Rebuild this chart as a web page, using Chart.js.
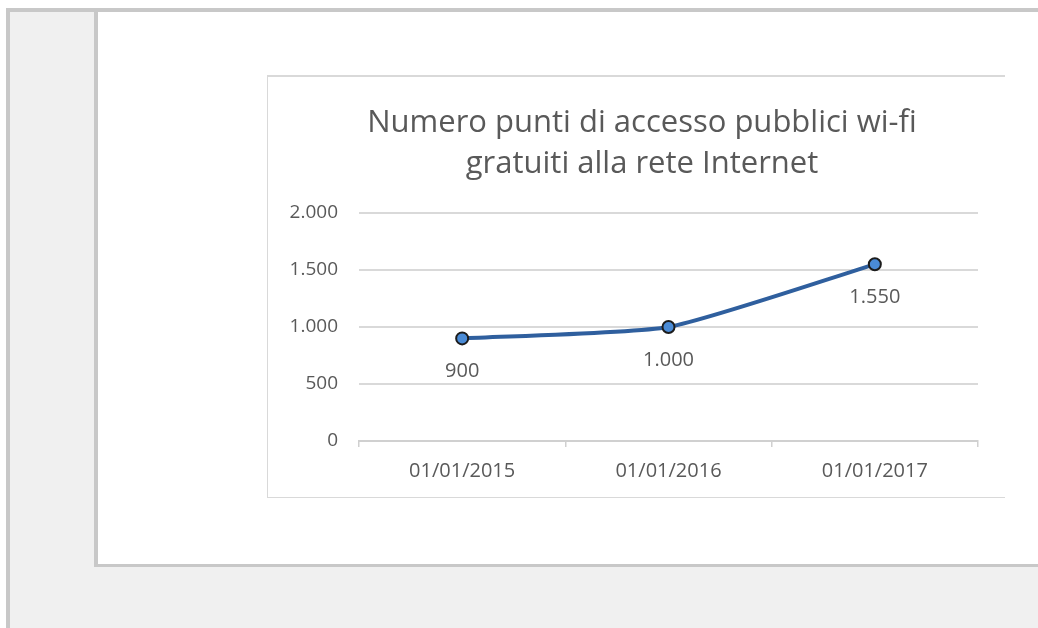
<!DOCTYPE html>
<html>
<head>
<meta charset="utf-8">
<script src="https://cdn.jsdelivr.net/npm/chart.js@4.4.0/dist/chart.umd.min.js"></script>
<style>
    html, body { margin: 0; padding: 0; background: #fff; width: 1038px; height: 628px; overflow: hidden; }
    #frame {
        position: absolute; left: 6px; top: 8px; width: 1032px; height: 620px;
        background: #f0f0f0; border-top: 4px solid #c8c8c8; border-left: 4px solid #c8c8c8;
    }
    #pannello {
        position: absolute; left: 94px; top: 12px; width: 944px; height: 552px;
        background: #fff; border-left: 4px solid #c8c8c8; border-bottom: 3px solid #c8c8c8;
    }
    #riquadro {
        position: absolute; left: 267px; top: 75px; width: 738px; height: 423px;
        background: #fff; border-top: 2px solid #d9d9d9; border-left: 1px solid #d9d9d9; border-bottom: 1px solid #d9d9d9;
        box-sizing: border-box;
    }
    #riquadro canvas { display: block; }
</style>
</head>
<body>
<div id="frame"></div>
<div id="pannello"></div>
<div id="riquadro"><canvas id="wifiChart" width="737" height="420"></canvas></div>
<script>
// Punti di accesso wi-fi gratuiti per anno
const date = ['01/01/2015', '01/01/2016', '01/01/2017'];
const puntiAccesso = [900, 1000, 1550];
const tickY = [0, 500, 1000, 1500, 2000];
const titolo = ['Numero punti di accesso pubblici wi-fi', 'gratuiti alla rete Internet'];

const grigioTesto = '#595959';

// Titolo su due righe, centrato un po' a sinistra del grafico
const titoloGrafico = {
    id: 'titoloGrafico',
    afterDraw(chart) {
        const ctx = chart.ctx;
        ctx.save();
        ctx.font = '31px "Open Sans"';
        ctx.fillStyle = grigioTesto;
        ctx.textAlign = 'center';
        ctx.textBaseline = 'middle';
        titolo.forEach(function(riga, i) {
            ctx.fillText(riga, 374, 46 + i * 41);
        });
        ctx.restore();
    }
};

// Etichette con il valore sotto ogni punto
const etichetteValori = {
    id: 'etichetteValori',
    afterDatasetsDraw(chart) {
        const ctx = chart.ctx;
        const meta = chart.getDatasetMeta(0);
        ctx.save();
        ctx.font = '20px "Open Sans"';
        ctx.fillStyle = grigioTesto;
        ctx.textAlign = 'center';
        ctx.textBaseline = 'middle';
        meta.data.forEach(function(pt, i) {
            ctx.fillText(puntiAccesso[i].toLocaleString('it-IT'), pt.x, pt.y + 33);
        });
        ctx.restore();
    }
};

const ctx = document.getElementById('wifiChart').getContext('2d');
new Chart(ctx, {
    type: 'line',
    data: {
        labels: date,
        datasets: [{
            data: puntiAccesso,
            borderColor: '#2f5f9e',
            borderWidth: 4,
            tension: 0.18,
            pointRadius: 6,
            pointBorderWidth: 2,
            pointBackgroundColor: '#4a8bd6',
            pointBorderColor: '#1c1c1c'
        }]
    },
    options: {
        responsive: false,
        animation: false,
        layout: { padding: { left: 0, right: 27, top: 136, bottom: 0 } },
        plugins: {
            legend: { display: false },
            tooltip: { enabled: false },
            title: { display: false }
        },
        scales: {
            x: {
                offset: true,
                afterFit(axis) { axis.height = 56; },
                grid: { offset: true, drawOnChartArea: false, drawTicks: true, tickLength: 6, color: '#d0d0d0', lineWidth: 1.5 },
                border: { color: '#d0d0d0', width: 2 },
                ticks: { color: grigioTesto, font: { family: '"Open Sans"', size: 20 }, padding: 12 }
            },
            y: {
                min: 0,
                max: 2000,
                afterBuildTicks(axis) { axis.ticks = tickY.map(v => ({ value: v })); },
                afterFit(axis) { axis.width = 91; },
                grid: { drawTicks: false, color: '#d9d9d9', lineWidth: 2 },
                border: { display: false },
                ticks: {
                    color: grigioTesto,
                    font: { family: '"Open Sans"', size: 19 },
                    padding: 21,
                    callback: v => v.toLocaleString('it-IT')
                }
            }
        }
    },
    plugins: [etichetteValori, titoloGrafico]
});
</script>
</body>
</html>
